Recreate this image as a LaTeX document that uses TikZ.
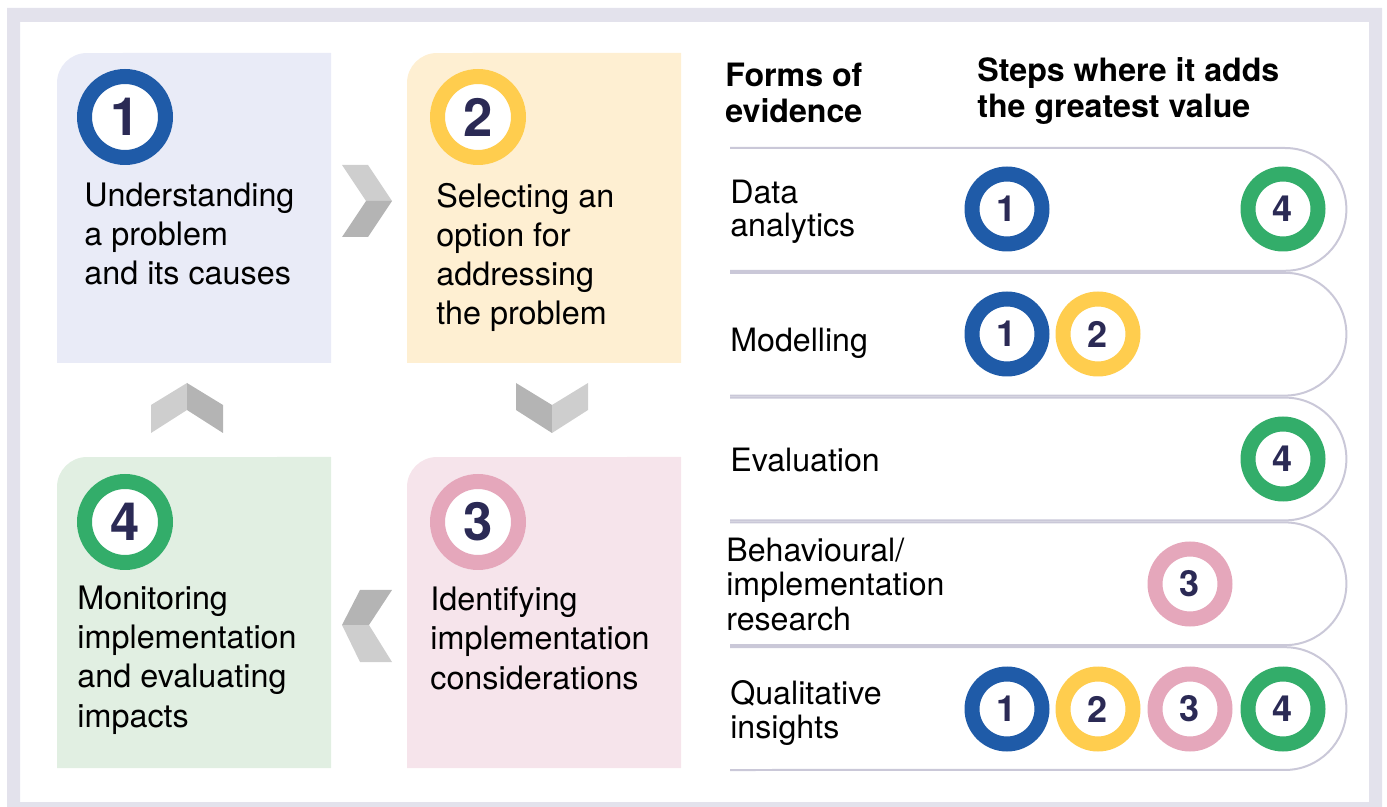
\documentclass[tikz,border=0pt]{standalone}
\usepackage{fontspec}
\setmainfont{TeX Gyre Heros}
\usetikzlibrary{positioning}
\definecolor{frame_grey}{RGB}{227,226,236}
\definecolor{box_blue}{RGB}{233,235,247}
\definecolor{box_yell}{RGB}{254,239,210}
\definecolor{box_pink}{RGB}{246,228,235}
\definecolor{box_green}{RGB}{225,239,226}
\definecolor{ring_blue}{RGB}{31,91,168}
\definecolor{ring_yell}{RGB}{255,205,78}
\definecolor{ring_pink}{RGB}{229,167,187}
\definecolor{ring_green}{RGB}{51,173,106}
\definecolor{num_navy}{RGB}{43,42,85}
\definecolor{row_line}{RGB}{202,200,216}
\definecolor{chev_light}{RGB}{206,206,206}
\definecolor{chev_dark}{RGB}{180,180,180}

\begin{document}
\begin{tikzpicture}[x=0.02cm,y=-0.02cm]
    \tikzstyle{bigring}=[circle, line width=0.3cm, minimum size=1.62cm, inner sep=0pt, fill=white, text=num_navy, font=\fontsize{30}{30}\selectfont\bfseries]
    \tikzstyle{ring}=[circle, line width=0.3cm, minimum size=1.4cm, inner sep=0pt, fill=white, text=num_navy, font=\fontsize{20.5}{20.5}\selectfont\bfseries]
    \tikzstyle{steptext}=[anchor=base west, align=left, inner sep=0pt, font=\fontsize{18.4}{22.2}\selectfont]
    \tikzstyle{formtext}=[anchor=base west, align=left, inner sep=0pt, font=\fontsize{18.3}{18.8}\selectfont]
    \tikzstyle{headtext}=[anchor=base west, align=left, inner sep=0pt, font=\fontsize{18.3}{20.5}\selectfont\bfseries]
    \tikzstyle{rowline}=[draw=row_line, line width=0.04cm]

    \useasboundingbox (0,0) rectangle (1387,807);
    \fill[frame_grey,even odd rule] (7,8) rectangle (1382,807) (20,22) rectangle (1369,802);

    % step boxes
    \fill[box_blue]  (331,363) -- (57,363) -- (57,83) arc[start angle=180,end angle=90,radius=0.6cm] -- (331,53) -- cycle;
    \fill[box_yell]  (681,363) -- (407,363) -- (407,83) arc[start angle=180,end angle=90,radius=0.6cm] -- (681,53) -- cycle;
    \fill[box_pink]  (681,768) -- (407,768) -- (407,487) arc[start angle=180,end angle=90,radius=0.6cm] -- (681,457) -- cycle;
    \fill[box_green] (331,768) -- (57,768) -- (57,487) arc[start angle=180,end angle=90,radius=0.6cm] -- (331,457) -- cycle;

    \node[bigring,draw=ring_blue]  (s1) at (125,117) {1};
    \node[bigring,draw=ring_yell]  (s2) at (478,117) {2};
    \node[bigring,draw=ring_pink]  (s3) at (478,522) {3};
    \node[bigring,draw=ring_green] (s4) at (125,522) {4};

    % base anchor sits on the last line
    \node[steptext] (understand) at (84,285)  {Understanding\\a problem\\and its causes};
    \node[steptext] (select)     at (436,325) {Selecting an\\option for\\addressing\\the problem};
    \node[steptext] (identify)   at (430,689) {Identifying\\implementation\\considerations};
    \node[steptext] (monitor)    at (77,727)  {Monitoring\\implementation\\and evaluating\\impacts};

    % chevrons
    \fill[chev_light] (342,165) -- (368,165) -- (392,201) -- (366,201) -- cycle;
    \fill[chev_dark]  (366,201) -- (392,201) -- (368,237) -- (342,237) -- cycle;
    \fill[chev_dark]  (516,383) -- (552,405) -- (552,433) -- (516,410) -- cycle;
    \fill[chev_light] (552,405) -- (588,383) -- (588,410) -- (552,433) -- cycle;
    \fill[chev_dark]  (392,590) -- (360,590) -- (342,625) -- (369,625) -- cycle;
    \fill[chev_light] (369,625) -- (342,625) -- (360,662) -- (392,662) -- cycle;
    \fill[chev_light] (151,433) -- (151,405) -- (187,383) -- (187,410) -- cycle;
    \fill[chev_dark]  (187,383) -- (223,405) -- (223,433) -- (187,410) -- cycle;

    % evidence table
    \node[headtext] (forms) at (725,123) {Forms of\\evidence};
    \node[headtext] (steps) at (977,118) {Steps where it adds\\the greatest value};

    \foreach \i in {0,...,4} {
      \pgfmathsetmacro\rtop{147+124.8*\i}
      \pgfmathsetmacro\rbot{\rtop+124.8}
      \draw[rowline] (730,\rtop+1) -- (1285,\rtop+1) arc[start angle=90,end angle=-90,radius=1.228cm] -- (730,\rbot-1);
    }

    \node[formtext] (data)  at (730,237) {Data\\analytics};
    \node[formtext] (model) at (730,352) {Modelling};
    \node[formtext] (eval)  at (730,472) {Evaluation};
    \node[formtext,font=\fontsize{18.3}{19.6}\selectfont] (behav) at (726,630) {Behavioural/\\implementation\\research};
    \node[formtext] (qual)  at (730,738) {Qualitative\\insights};

    \node[ring,draw=ring_blue]  (data1)  at (1007,209) {1};
    \node[ring,draw=ring_green] (data4)  at (1283,209) {4};
    \node[ring,draw=ring_blue]  (model1) at (1007,334) {1};
    \node[ring,draw=ring_yell]  (model2) at (1098,334) {2};
    \node[ring,draw=ring_green] (eval4)  at (1283,459) {4};
    \node[ring,draw=ring_pink]  (behav3) at (1190,584) {3};
    \node[ring,draw=ring_blue]  (qual1)  at (1007,709) {1};
    \node[ring,draw=ring_yell]  (qual2)  at (1098,709) {2};
    \node[ring,draw=ring_pink]  (qual3)  at (1190,709) {3};
    \node[ring,draw=ring_green] (qual4)  at (1283,709) {4};
\end{tikzpicture}
\end{document}
